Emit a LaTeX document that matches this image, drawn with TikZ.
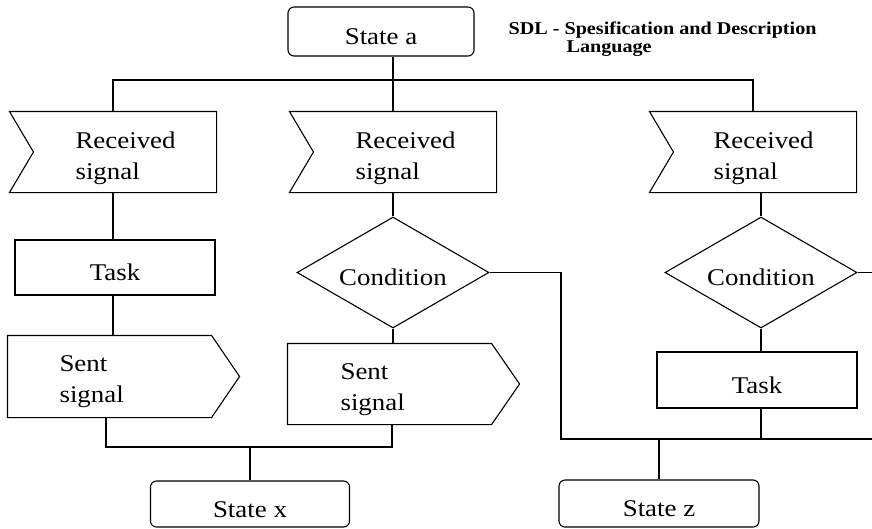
\documentclass[tikz,border=0pt]{standalone}
\usepackage{fontspec}
\setmainfont{Liberation Serif}[FakeStretch=1.12]
\usetikzlibrary{shapes.geometric}
\begin{document}
\begin{tikzpicture}[x=1pt,y=-1pt,line width=1.1pt,
  txt/.style={font=\fontsize{24}{31}\selectfont},
  lbl/.style={txt,inner sep=0pt,align=left,anchor=west},
  frame/.style={rectangle,inner sep=0pt},
  statebox/.style={draw,rectangle,rounded corners=6pt,inner sep=0pt,txt,text height=26pt,text depth=0pt},
  taskbox/.style={draw,rectangle,inner sep=0pt,minimum width=200pt,txt,text height=26pt,text depth=0pt},
  cond/.style={draw,diamond,aspect=1.73,inner sep=0pt,minimum width=192pt,minimum height=111pt,txt,text height=26pt,text depth=0pt}]
\useasboundingbox[fill=white] (0,0) rectangle (872,528);

% states
\node[statebox,minimum width=186pt,minimum height=49pt] (sa) at (381,31.5) {State a};
\node[statebox,minimum width=199pt,minimum height=46pt] (sx) at (250,504) {State x};
\node[statebox,minimum width=200pt,minimum height=47pt] (sz) at (659,503.5) {State z};

% title
\node[font=\bfseries\fontsize{18}{18}\selectfont,align=left,anchor=west,inner sep=0pt] (title) at (508,39)
  {SDL - Spesification and Description\\\hspace*{58pt}Language};

% received signals
\node[frame,minimum width=206pt,minimum height=80pt] (r1) at (113,152) {};
\node[frame,minimum width=206pt,minimum height=80pt] (r2) at (393,152) {};
\node[frame,minimum width=206pt,minimum height=80pt] (r3) at (753,152) {};
\foreach \r in {r1,r2,r3}{
  \draw (\r.north west) -- (\r.north east) -- (\r.south east) -- (\r.south west)
    -- ([xshift=24pt]\r.west) -- cycle;
}
\node[lbl] (r1t) at (75,158) {Received\\signal};
\node[lbl] (r2t) at (355,158) {Received\\signal};
\node[lbl] (r3t) at (713,158) {Received\\signal};

% tasks
\node[taskbox,minimum height=55pt] (t1) at (115,267.5) {Task};
\node[taskbox,minimum height=56pt] (t2) at (757,380) {Task};

% conditions
\node[cond] (c1) at (393,272.5) {Condition};
\node[cond] (c2) at (761,272.5) {Condition};

% sent signals
\node[frame,minimum width=203pt,minimum height=81pt] (s1) at (109.5,376.5) {};
\node[frame,minimum width=203pt,minimum height=80pt] (s2) at (389.5,384) {};
\foreach \s in {s1,s2}{
  \draw (\s.north west) -- (\s.north east) -- ([xshift=28pt]\s.east) -- (\s.south east)
    -- (\s.south west) -- cycle;
}
\node[lbl] (s1t) at (59,381.5) {Sent\\signal};
\node[lbl] (s2t) at (340,389.5) {Sent\\signal};

% connectors
\coordinate (busA) at (0,80);
\coordinate (jx1) at (106,447);
\coordinate (jx2) at (392,447);
\coordinate (jz1) at (561,439);
\coordinate (jzr) at (872,439);
\coordinate (edge) at (872,0);

\draw (r1.north) -- (r1.north |- busA) -- (r3.north |- busA) -- (r3.north);
\draw (sa.south -| r2.north) -- (r2.north);

\draw (r1.south) -- (r1.south |- t1.north);
\draw (t1.south -| r1.south) -- (s1.north -| r1.south);
\draw (s1.south -| jx1) -- (jx1) -- (jx2) -- (s2.south -| jx2);
\draw (sx.north |- jx1) -- (sx.north);

\draw (r2.south) -- (c1.north);
\draw (c1.south) -- (s2.north -| c1.south);
\draw (c1.east) -| (jz1) -- (jzr);

\draw (r3.south -| c2.north) -- (c2.north);
\draw (c2.south) -- (t2.north -| c2.south);
\draw (t2.south -| c2.south) -- (c2.south |- jz1);
\draw (c2.east) -- (c2.east -| edge);
\draw (sz.north |- jz1) -- (sz.north);
\end{tikzpicture}
\end{document}
